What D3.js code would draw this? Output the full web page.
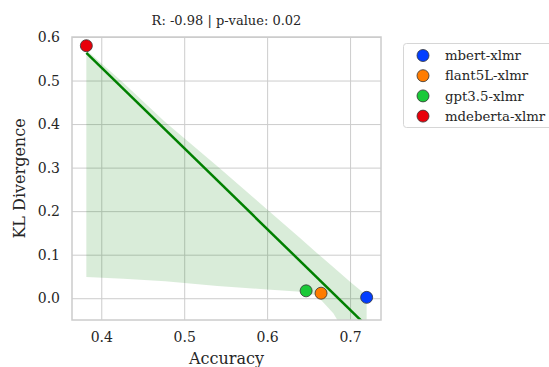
<!DOCTYPE html>
<html>
<head>
<meta charset="utf-8">
<script src="https://cdn.jsdelivr.net/npm/d3@7"></script>
<style>
  body { margin: 0; background: #fff; }
  svg { font-family: "DejaVu Serif", serif; }
</style>
</head>
<body>
<svg></svg>
<script>
// data
var models = ["mbert-xlmr", "flant5L-xlmr", "gpt3.5-xlmr", "mdeberta-xlmr"];
var accuracy = [0.720, 0.665, 0.647, 0.382];
var klDiv = [0.002, 0.0115, 0.017, 0.580];
var colors = ["#023eff", "#ff7c00", "#1ac938", "#e8000b"];

// confidence band (bootstrap) as seen in the picture
var ciX  = [0.382, 0.4265, 0.477, 0.54, 0.60, 0.64, 0.66, 0.68, 0.70, 0.72];
var ciHi = [0.57, 0.495, 0.405, 0.303, 0.204, 0.138, 0.104, 0.071, 0.038, 0.006];
var ciLo = [0.049, 0.045, 0.039, 0.028, 0.020, 0.015, 0.006, -0.035, -0.10, -0.17];

var xTicks = [0.4, 0.5, 0.6, 0.7];
var yTicks = [0.0, 0.1, 0.2, 0.3, 0.4, 0.5, 0.6];

var svg = d3.select("svg"),
    width = 549,
    height = 367;
svg.attr("width", width).attr("height", height);

var margin = {left: 72, right: 381, top: 37, bottom: 320};

var x = d3.scaleLinear().domain([0.3647, 0.7373]).range([margin.left, margin.right]);
var y = d3.scaleLinear().domain([-0.05, 0.6]).range([margin.bottom, margin.top]);

svg.append("clipPath").attr("id", "plotclip")
    .append("rect")
    .attr("x", margin.left).attr("y", margin.top)
    .attr("width", margin.right - margin.left)
    .attr("height", margin.bottom - margin.top);

// grid
svg.append("g")
    .attr("transform", "translate(0," + margin.bottom + ")")
    .call(d3.axisBottom(x).tickValues(xTicks).tickSize(-(margin.bottom - margin.top)).tickFormat(d3.format(".1f")).tickPadding(12))
    .call(g => g.select(".domain").remove())
    .call(g => g.selectAll("line").attr("stroke", "#cccccc").attr("stroke-width", 1))
    .call(g => g.selectAll("text").attr("fill", "#262626").style("font-size", "14px").style("font-family", "DejaVu Serif"));

svg.append("g")
    .attr("transform", "translate(" + margin.left + ",0)")
    .call(d3.axisLeft(y).tickValues(yTicks).tickSize(-(margin.right - margin.left)).tickFormat(d3.format(".1f")).tickPadding(12))
    .call(g => g.select(".domain").remove())
    .call(g => g.selectAll("line").attr("stroke", "#cccccc").attr("stroke-width", 1))
    .call(g => g.selectAll("text").attr("fill", "#262626").style("font-size", "14px").style("font-family", "DejaVu Serif"));

var plot = svg.append("g").attr("clip-path", "url(#plotclip)");

// confidence band
var area = d3.area()
    .x((d, i) => x(ciX[i]))
    .y0((d, i) => y(ciLo[i]))
    .y1((d, i) => y(ciHi[i]));
plot.append("path")
    .datum(ciX)
    .attr("d", area)
    .attr("fill", "green")
    .attr("fill-opacity", 0.15);

// least squares fit
var mx = d3.mean(accuracy), my = d3.mean(klDiv);
var sxy = d3.sum(accuracy, (a, i) => (a - mx) * (klDiv[i] - my));
var sxx = d3.sum(accuracy, a => (a - mx) * (a - mx));
var slope = sxy / sxx, intercept = my - slope * mx;
var xr = d3.extent(accuracy);
plot.append("line")
    .attr("x1", x(xr[0])).attr("y1", y(intercept + slope * xr[0]))
    .attr("x2", x(xr[1])).attr("y2", y(intercept + slope * xr[1]))
    .attr("stroke", "green")
    .attr("stroke-width", 2.5);

// frame
svg.append("rect")
    .attr("x", margin.left).attr("y", margin.top)
    .attr("width", margin.right - margin.left)
    .attr("height", margin.bottom - margin.top)
    .attr("fill", "none")
    .attr("stroke", "#cccccc")
    .attr("stroke-width", 1.5);

// points
svg.selectAll("circle.pt")
    .data(models)
    .join("circle")
    .attr("class", "pt")
    .attr("cx", (d, i) => x(accuracy[i]))
    .attr("cy", (d, i) => y(klDiv[i]))
    .attr("r", 6)
    .attr("fill", (d, i) => colors[i])
    .attr("stroke", "#333")
    .attr("stroke-width", 0.8);

// title and labels
svg.append("text")
    .attr("x", (margin.left + margin.right) / 2).attr("y", 25)
    .attr("text-anchor", "middle")
    .style("font-size", "13px")
    .attr("fill", "#262626")
    .text("R: -0.98 | p-value: 0.02");

svg.append("text")
    .attr("x", (margin.left + margin.right) / 2).attr("y", 364)
    .attr("text-anchor", "middle")
    .style("font-size", "16px")
    .attr("fill", "#262626")
    .text("Accuracy");

svg.append("text")
    .attr("transform", "translate(25," + ((margin.top + margin.bottom) / 2) + ") rotate(-90)")
    .attr("text-anchor", "middle")
    .style("font-size", "16px")
    .attr("fill", "#262626")
    .text("KL Divergence");

// legend
var legend = svg.append("g");
legend.append("rect")
    .attr("x", 403.5).attr("y", 43.5)
    .attr("width", 160).attr("height", 84)
    .attr("rx", 3)
    .attr("fill", "#fff")
    .attr("stroke", "#d6d6d6");
var items = legend.selectAll("g.item")
    .data(models)
    .join("g")
    .attr("class", "item")
    .attr("transform", (d, i) => "translate(423," + (55.5 + i * 20.2) + ")");
items.append("circle")
    .attr("r", 6)
    .attr("fill", (d, i) => colors[i])
    .attr("stroke", "#333")
    .attr("stroke-width", 0.8);
items.append("text")
    .attr("x", 22).attr("dy", "0.35em")
    .style("font-size", "13.3px")
    .attr("fill", "#262626")
    .text(d => d);
</script>
</body>
</html>
